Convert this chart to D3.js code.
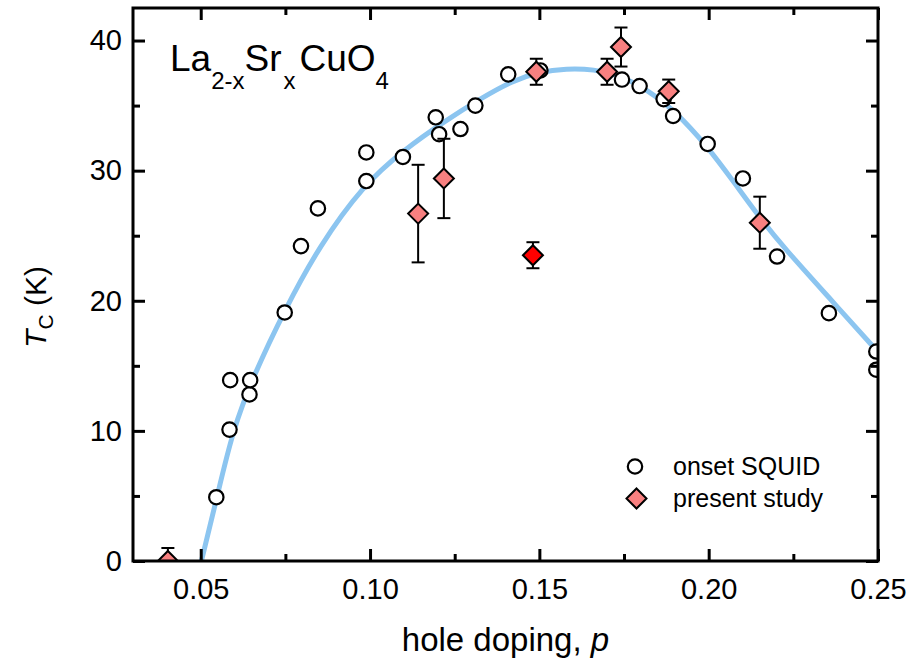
<!DOCTYPE html>
<html>
<head>
<meta charset="utf-8">
<script src="https://cdn.jsdelivr.net/npm/d3@7"></script>
<style>
  html, body { margin: 0; padding: 0; background: #fff; }
  svg { display: block; font-family: "Liberation Sans", Arial, Helvetica, sans-serif; }
</style>
</head>
<body>
<svg id="chart" width="910" height="664"></svg>
<script>
// ---- data ----
const squidP  = [0.0546, 0.0585, 0.0587, 0.0644, 0.0646, 0.0748, 0.0796, 0.0846, 0.0989, 0.0989, 0.1097, 0.1194, 0.1204, 0.1267, 0.1311, 0.1408, 0.1503, 0.1744, 0.1796, 0.1867, 0.1895, 0.1997, 0.2101, 0.2202, 0.2355, 0.2495, 0.2495];
const squidTc = [4.9, 10.1, 13.9, 12.8, 13.9, 19.1, 24.2, 27.1, 29.2, 31.4, 31.05, 34.1, 32.8, 33.2, 35.0, 37.4, 37.7, 37.0, 36.5, 35.5, 34.2, 32.05, 29.4, 23.4, 19.05, 16.1, 14.7];

const presP   = [0.0403, 0.1142, 0.1218, 0.1491, 0.1700, 0.1741, 0.1882, 0.2151];
const presTc  = [0.0, 26.7, 29.4, 37.6, 37.6, 39.5, 36.1, 26.0];
const presErr = [1.0, 3.75, 3.05, 1.0, 1.0, 1.5, 0.9, 2.0];

const redP   = [0.1481];
const redTc  = [23.5];
const redErr = [1.0];

const curveP  = [0.0502, 0.0549, 0.0594, 0.0655, 0.0748, 0.085, 0.098, 0.110, 0.122, 0.133, 0.142, 0.150, 0.158, 0.166, 0.174, 0.182, 0.190, 0.1995, 0.2075, 0.215, 0.2225, 0.235, 0.2502];
const curveTc = [0.0, 5.0, 10.0, 14.2, 19.3, 24.2, 28.9, 31.6, 33.8, 35.6, 36.9, 37.6, 37.85, 37.8, 37.3, 36.2, 34.6, 31.9, 29.1, 26.4, 24.0, 20.4, 16.0];

const xMajor = [0.05, 0.10, 0.15, 0.20, 0.25];
const xMinor = [0.075, 0.125, 0.175, 0.225];
const yMajor = [0, 10, 20, 30, 40];
const yMinor = [5, 15, 25, 35];

const legendLabels = ["onset SQUID", "present study"];

// ---- layout ----
const L = 133, R = 878, T = 8, B = 561;
const svg = d3.select("#chart");
const x = d3.scaleLinear().domain([0.03, 0.25]).range([L, R]);
const y = d3.scaleLinear().domain([0, 42.5]).range([B, T]);

svg.append("defs").append("clipPath").attr("id", "plotclip")
  .append("rect").attr("x", L).attr("y", T).attr("width", R - L).attr("height", B - T);

const plot = svg.append("g").attr("clip-path", "url(#plotclip)");

// fit curve
const curveData = curveP.map((p, i) => [p, curveTc[i]]);
plot.append("path")
  .datum(curveData)
  .attr("fill", "none")
  .attr("stroke", "#8cc5f0")
  .attr("stroke-width", 5)
  .attr("d", d3.line().x(d => x(d[0])).y(d => y(d[1])).curve(d3.curveBasis));

// circles
const squid = squidP.map((p, i) => ({p, t: squidTc[i]}));
plot.selectAll("circle.sq").data(squid).enter().append("circle")
  .attr("class", "sq")
  .attr("cx", d => x(d.p)).attr("cy", d => y(d.t)).attr("r", 7.2)
  .attr("fill", "#fff").attr("stroke", "#000").attr("stroke-width", 2.2);

// diamonds with error bars
const diamond = (cx, cy, h) => `M${cx},${cy - h}L${cx + h},${cy}L${cx},${cy + h}L${cx - h},${cy}Z`;
function drawPres(ps, ts, es, fill) {
  const data = ps.map((p, i) => ({p, t: ts[i], e: es[i]}));
  const g = plot.append("g");
  data.forEach(d => {
    const cx = x(d.p), y1 = y(d.t + d.e), y0 = y(d.t - d.e);
    g.append("line").attr("x1", cx).attr("x2", cx).attr("y1", y1).attr("y2", y0)
      .attr("stroke", "#000").attr("stroke-width", 2);
    [y1, y0].forEach(yy => g.append("line").attr("x1", cx - 6.5).attr("x2", cx + 6.5)
      .attr("y1", yy).attr("y2", yy).attr("stroke", "#000").attr("stroke-width", 2));
  });
  g.selectAll("path").data(data).enter().append("path")
    .attr("d", d => diamond(x(d.p), y(d.t), 10))
    .attr("fill", fill).attr("stroke", "#000").attr("stroke-width", 2).attr("stroke-linejoin", "miter");
}
drawPres(presP, presTc, presErr, "#f88080");
drawPres(redP, redTc, redErr, "#ff0000");

// axes
function styleAxis(g) {
  g.select(".domain").remove();
  g.selectAll(".tick line").attr("stroke", "#000").attr("stroke-width", 3);
  g.selectAll(".tick text").attr("fill", "#000").style("font-size", "29px")
    .style("font-family", '"Liberation Sans", Arial, sans-serif');
}
svg.append("g").attr("transform", `translate(0,${B})`)
  .call(d3.axisBottom(x).tickValues(xMajor).tickSize(-12).tickSizeOuter(0).tickPadding(17).tickFormat(d3.format(".2f")))
  .call(styleAxis);
svg.append("g").attr("transform", `translate(0,${B})`)
  .call(d3.axisBottom(x).tickValues(xMinor).tickSize(-7).tickSizeOuter(0).tickFormat(""))
  .call(styleAxis);
svg.append("g").attr("transform", `translate(0,${T})`)
  .call(d3.axisTop(x).tickValues(xMajor).tickSize(-12).tickSizeOuter(0).tickFormat(""))
  .call(styleAxis);
svg.append("g").attr("transform", `translate(0,${T})`)
  .call(d3.axisTop(x).tickValues(xMinor).tickSize(-7).tickSizeOuter(0).tickFormat(""))
  .call(styleAxis);
svg.append("g").attr("transform", `translate(${L},0)`)
  .call(d3.axisLeft(y).tickValues(yMajor).tickSize(-12).tickSizeOuter(0).tickPadding(11).tickFormat(d3.format("d")))
  .call(styleAxis);
svg.append("g").attr("transform", `translate(${L},0)`)
  .call(d3.axisLeft(y).tickValues(yMinor).tickSize(-7).tickSizeOuter(0).tickFormat(""))
  .call(styleAxis);
svg.append("g").attr("transform", `translate(${R},0)`)
  .call(d3.axisRight(y).tickValues(yMajor).tickSize(-12).tickSizeOuter(0).tickFormat(""))
  .call(styleAxis);
svg.append("g").attr("transform", `translate(${R},0)`)
  .call(d3.axisRight(y).tickValues(yMinor).tickSize(-7).tickSizeOuter(0).tickFormat(""))
  .call(styleAxis);

// frame
svg.append("rect").attr("x", L).attr("y", T).attr("width", R - L).attr("height", B - T)
  .attr("fill", "none").attr("stroke", "#000").attr("stroke-width", 3);

// axis titles
const xt = svg.append("text").attr("x", (L + R) / 2).attr("y", 651).attr("text-anchor", "middle")
  .style("font-size", "33px").attr("fill", "#000");
xt.append("tspan").text("hole doping, ");
xt.append("tspan").style("font-style", "italic").text("p");

const yt = svg.append("text").attr("transform", "translate(46,307) rotate(-90)")
  .attr("text-anchor", "middle").style("font-size", "30px").attr("fill", "#000");
yt.append("tspan").style("font-style", "italic").text("T");
yt.append("tspan").attr("dy", 7).style("font-size", "21px").text("C");
yt.append("tspan").attr("dy", -7).text(" (K)");

// compound label
const lab = svg.append("text").attr("x", 170).attr("y", 71).style("font-size", "37px").attr("fill", "#000");
const parts = [["La", false], ["2-x", true], ["Sr", false], ["x", true], ["CuO", false], ["4", true]];
let sub = false;
parts.forEach(([s, isSub]) => {
  const ts = lab.append("tspan").text(s);
  if (isSub && !sub) { ts.attr("dy", 18).style("font-size", "24px"); sub = true; }
  else if (isSub) { ts.style("font-size", "24px"); }
  else if (!isSub && sub) { ts.attr("dy", -18); sub = false; }
  if (s === "x" ) ts.attr("dx", 2);
  if (s === "CuO") ts.attr("dx", 4);
});

// legend
const lg = svg.append("g");
lg.append("circle").attr("cx", 635).attr("cy", 466.5).attr("r", 7.2)
  .attr("fill", "#fff").attr("stroke", "#000").attr("stroke-width", 2.2);
lg.append("path").attr("d", diamond(636.5, 498.5, 10))
  .attr("fill", "#f88080").attr("stroke", "#000").attr("stroke-width", 2);
lg.selectAll("text").data(legendLabels).enter().append("text")
  .attr("x", 673).attr("y", (d, i) => 474.5 + i * 32.5)
  .style("font-size", "25px").attr("fill", "#000").text(d => d);
</script>
</body>
</html>
